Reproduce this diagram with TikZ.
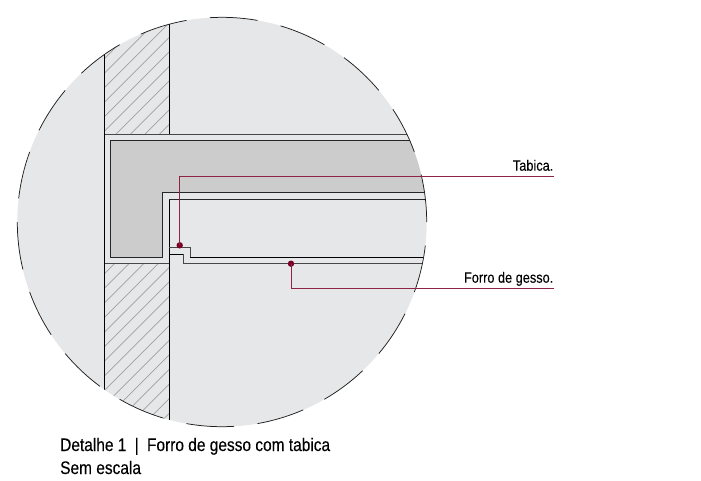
\documentclass[tikz,border=0pt]{standalone}
\usepackage{fontspec}
\setmainfont[FakeStretch=0.85,FakeBold=0.12]{Liberation Sans}
\definecolor{bgc}{HTML}{E6E7E8}
\definecolor{slabc}{HTML}{CCCCCC}
\definecolor{leadc}{HTML}{8E2443}
\definecolor{dotc}{HTML}{7A0026}
\definecolor{hatchc}{HTML}{A0A0A0}
\tikzset{
  wall/.style={black,line width=0.9pt},
  darkline/.style={black!85,line width=1pt},
  softline/.style={black!72,line width=1pt},
  hatchline/.style={hatchc,line width=0.7pt},
  rim/.style={black!88,line width=0.75pt},
  leader/.style={leadc,line width=0.9pt},
  dotmark/.style={circle,fill=dotc,inner sep=0pt,minimum size=6.4pt},
  smalltxt/.style={font=\fontsize{15}{16}\selectfont,text=black,inner sep=0pt},
  captxt/.style={font=\fontsize{18.2}{23}\selectfont,text=black,inner sep=0pt}
}
\begin{document}
\begin{tikzpicture}[x=1pt,y=-1pt]
\useasboundingbox (0,0) rectangle (701,480);
\def\cx{222}\def\cy{222}\def\rr{204.7}
\fill[bgc] (\cx,\cy) circle[radius=\rr];
\begin{scope}
  \clip (\cx,\cy) circle[radius=\rr];
  % slab
  \fill[slabc] (110.7,140.3) -- (450,140.3) -- (450,192.3) -- (162.7,192.3) -- (162.7,257.3) -- (110.7,257.3) -- cycle;
  % hatch upper
  \begin{scope}
    \clip (104.7,0) rectangle (169.3,134);
    \foreach \k in {-7,...,4}
      \draw[hatchline] ({250+14.5*\k},0) -- ({250+14.5*\k-500},500);
  \end{scope}
  % hatch lower
  \begin{scope}
    \clip (104.7,263.5) rectangle (169.3,440);
    \foreach \k in {-2,...,15}
      \draw[hatchline] ({392.7+14.6*\k},0) -- ({392.7+14.6*\k-500},500);
  \end{scope}
  % walls
  \draw[wall] (104.7,0) -- (104.7,440);
  \draw[wall] (169.3,0) -- (169.3,134);
  \draw[wall] (169.3,199.3) -- (169.3,440);
  % horizontal courses
  \draw[softline] (104.7,134) -- (450,134);
  \draw[darkline] (450,140.3) -- (110.7,140.3) -- (110.7,257.3) -- (162.7,257.3) -- (162.7,192.3) -- (450,192.3);
  \draw[darkline] (169.3,199.3) -- (450,199.3);
  % stepped trim
  \draw[softline] (169.3,247.7) -- (190,247.7) -- (190,257.3);
  \draw[wall] (190,257.3) -- (450,257.3);
  \draw[wall] (169.3,254) -- (183.7,254);
  \draw[softline] (183.7,254) -- (183.7,263.6) -- (450,263.6);
  \draw[softline] (104.7,263.5) -- (169.3,263.5);
\end{scope}
% broken rim
\foreach \a in {0,20,...,340}
  \draw[rim] ({\cx+\rr*cos(\a)},{\cy-\rr*sin(\a)}) arc[start angle=-\a,delta angle=-13.4,radius=\rr];
% leaders
\node[dotmark] (tabicadot) at (179.7,245.3) {};
\node[dotmark] (forrodot) at (291,263.7) {};
\coordinate (tabicaend) at (553.7,176.3);
\coordinate (forroend) at (553.7,288.3);
\draw[leader] (tabicadot.center) |- (tabicaend);
\draw[leader] (forrodot.center) |- (forroend);
% labels
\node[smalltxt,anchor=base east] (tabicalabel) at (553.5,170.7) {Tabica.};
\node[smalltxt,anchor=base east] (forrolabel) at (553.5,282.7) {Forro de gesso.};
\node[captxt,anchor=base west] (capone) at (60,451) {Detalhe 1\hspace{4pt} | \hspace{4pt}Forro de gesso com tabica};
\node[captxt,anchor=base west] (captwo) at (60,474) {Sem escala};
\end{tikzpicture}
\end{document}
